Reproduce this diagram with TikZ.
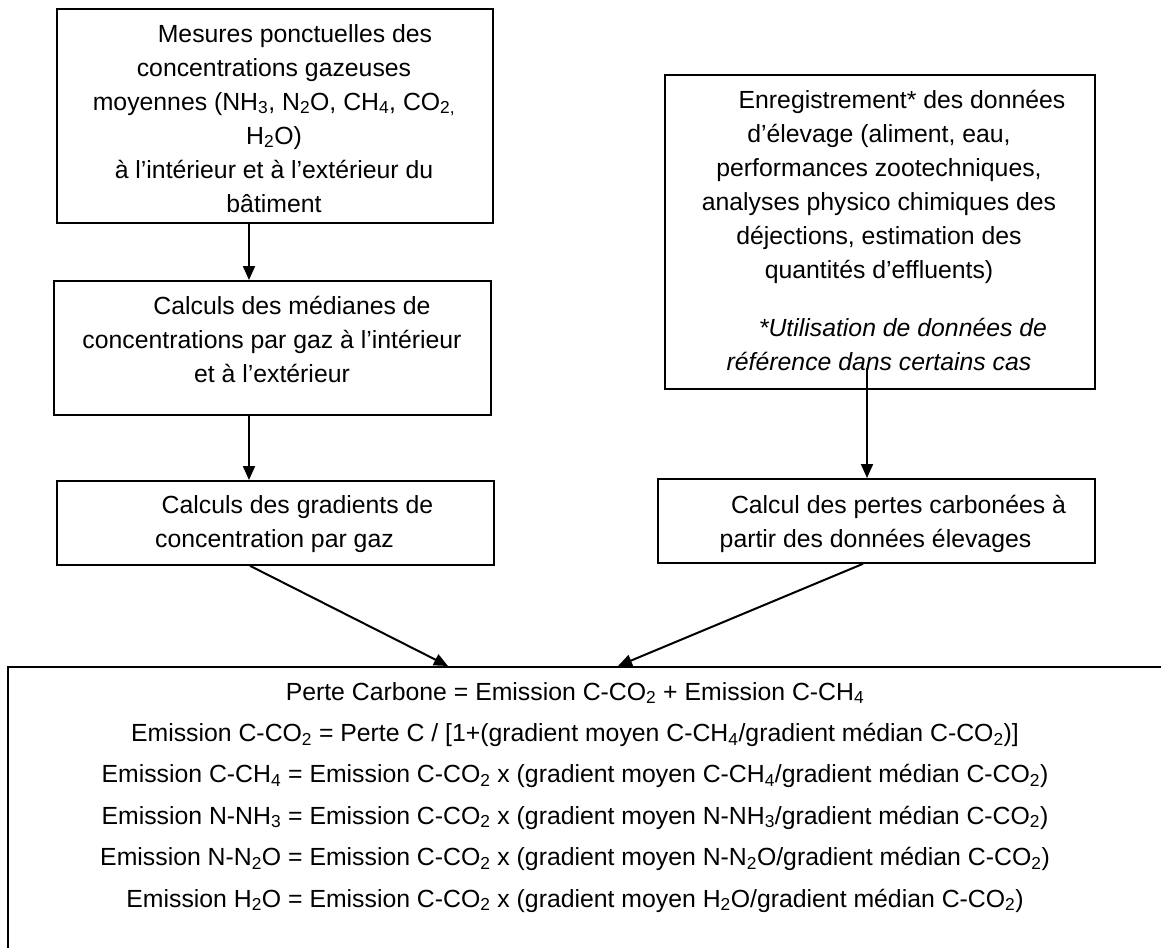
\documentclass[tikz,border=0pt]{standalone}
\usepackage{fontspec}
\setmainfont{Liberation Sans}
\usetikzlibrary{arrows.meta}
\newcommand{\sbs}[1]{\textsubscript{#1}}
\begin{document}
\begin{tikzpicture}[x=1pt,y=-1pt,
  box/.style={draw, line width=1.8pt, anchor=north west, inner sep=0pt},
  txt/.style={align=center, anchor=base, inner sep=0pt, font=\fontsize{24.8}{34}\selectfont},
  bigtxt/.style={align=center, anchor=base, inner sep=0pt, font=\fontsize{24.8}{41.4}\selectfont},
  arr/.style={line width=2pt, -{Triangle[length=14pt,width=12pt]}}]
\useasboundingbox (0,0) rectangle (1161,947);
\clip (0,0) rectangle (1161,947);
% boxes
\node[box, minimum width=436pt, minimum height=214pt] (b1) at (56,8) {};
\node[box, minimum width=437pt, minimum height=134pt] (b2) at (53,280) {};
\node[box, minimum width=437pt, minimum height=84pt] (b3) at (56,480) {};
\node[box, minimum width=430pt, minimum height=314pt] (b4) at (664,74) {};
\node[box, minimum width=437pt, minimum height=84pt] (b5) at (657,478) {};
\node[box, minimum width=1170pt, minimum height=300pt] (big) at (7,666) {};
% texts (anchored at the baseline of their last line)
\node[txt] (t1) at (274,212) {\hspace*{42pt}Mesures ponctuelles des\\ concentrations gazeuses\\ moyennes (NH\sbs{3}, N\sbs{2}O, CH\sbs{4}, CO\sbs{2,}\\ H\sbs{2}O)\\ à l’intérieur et à l’extérieur du\\ bâtiment};
\node[txt] (t2) at (272,382) {\hspace*{40pt}Calculs des médianes de\\ concentrations par gaz à l’intérieur\\ et à l’extérieur};
\node[txt] (t3) at (274.5,547) {\hspace*{46pt}Calculs des gradients de\\ concentration par gaz};
\node[txt] (t4) at (879,370) {\hspace*{46pt}Enregistrement* des données\\ d’élevage (aliment, eau,\\ performances zootechniques,\\ analyses physico chimiques des\\ déjections, estimation des\\ quantités d’effluents)\\[24pt] \textit{\hspace*{48pt}*Utilisation de données de}\\ \textit{référence dans certains cas}};
\node[txt] (t5) at (875.5,547) {\hspace*{46pt}Calcul des pertes carbonées à\\ partir des données élevages};
\node[bigtxt] (t6) at (575,907) {Perte Carbone = Emission C-CO\sbs{2} + Emission C-CH\sbs{4}\\
Emission C-CO\sbs{2} = Perte C / [1+(gradient moyen C-CH\sbs{4}/gradient médian C-CO\sbs{2})]\\
Emission C-CH\sbs{4} = Emission C-CO\sbs{2} x (gradient moyen C-CH\sbs{4}/gradient médian C-CO\sbs{2})\\
Emission N-NH\sbs{3} = Emission C-CO\sbs{2} x (gradient moyen N-NH\sbs{3}/gradient médian C-CO\sbs{2})\\
Emission N-N\sbs{2}O = Emission C-CO\sbs{2} x (gradient moyen N-N\sbs{2}O/gradient médian C-CO\sbs{2})\\
Emission H\sbs{2}O = Emission C-CO\sbs{2} x (gradient moyen H\sbs{2}O/gradient médian C-CO\sbs{2})};
% connectors
\coordinate (ca) at (249,0);
\draw[arr] (ca |- b1.south) -- (ca |- b2.north);
\draw[arr] (ca |- b2.south) -- (ca |- b3.north);
\coordinate (cb) at (867,368);
\draw[arr] (cb) -- (cb |- b5.north);
\coordinate (s3) at (250,0);
\coordinate (e3) at (448,666);
\draw[arr] (s3 |- b3.south) -- (e3);
\coordinate (s5) at (863,0);
\coordinate (e5) at (618,666);
\draw[arr] (s5 |- b5.south) -- (e5);
\end{tikzpicture}
\end{document}
